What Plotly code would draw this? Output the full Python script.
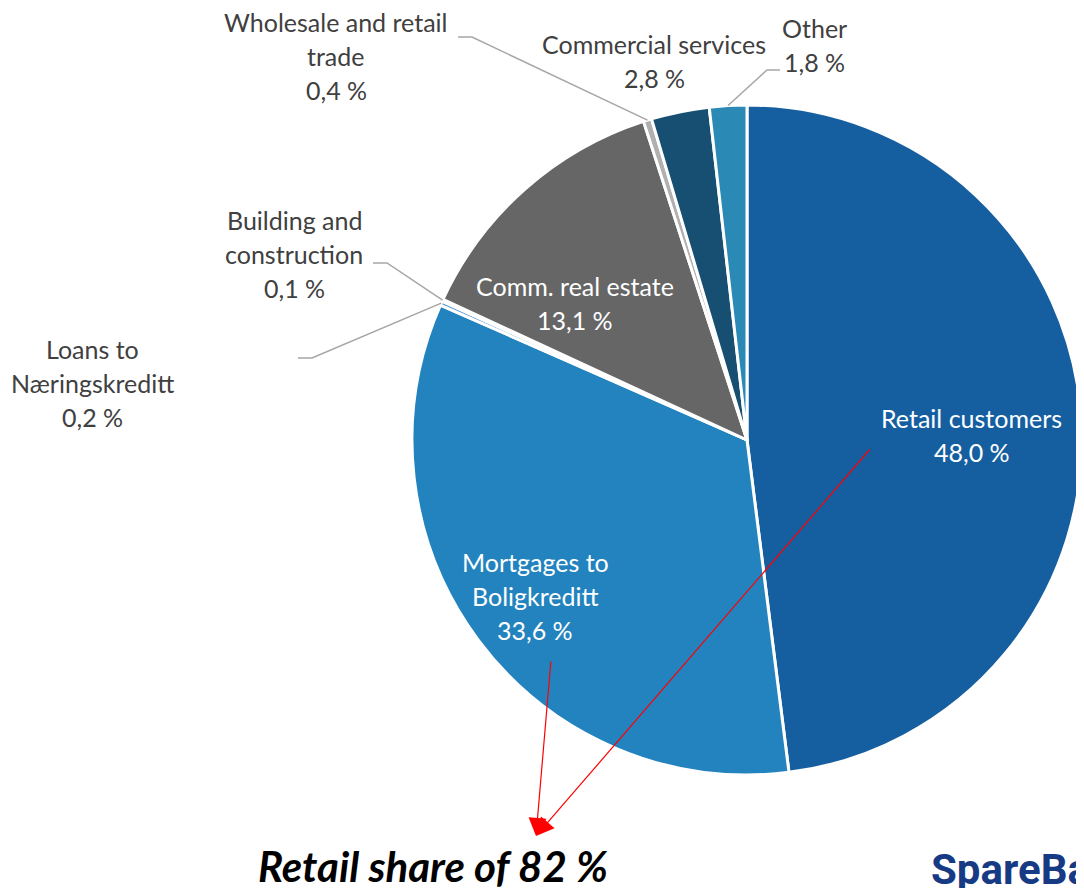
import math
import plotly.graph_objects as go

# loan portfolio by sector (%)
sectors = ['Retail customers', 'Mortgages to Boligkreditt', 'Loans to Næringskreditt',
           'Building and construction', 'Comm. real estate', 'Wholesale and retail trade',
           'Commercial services', 'Other']
shares = [48.0, 33.6, 0.2, 0.1, 13.1, 0.4, 2.8, 1.8]
label_names = [['Retail customers'], ['Mortgages to', 'Boligkreditt'], ['Loans to', 'Næringskreditt'],
               ['Building and', 'construction'], ['Comm. real estate'], ['Wholesale and retail', 'trade'],
               ['Commercial services'], ['Other']]
colors = ['#155FA0', '#2383BE', '#5b9bd5', '#8c8c8c', '#666666', '#b0b0b0', '#174F72', '#2A8AB5']

W, H = 1084, 888
OFF = 8  # page body margin
cx, cy, R = 747, 440, 335  # pie centre / radius in page px


def px_x(v):
    return (v - OFF) / W


def px_y(v):
    return 1 - (v - OFF) / H


def fmt(v):
    return f'{v:.1f}'.replace('.', ',') + ' %'


fig = go.Figure(go.Pie(
    labels=sectors, values=shares, sort=False, direction='clockwise', rotation=0,
    marker=dict(colors=colors, line=dict(color='white', width=3)),
    textinfo='none', textposition='none', hoverinfo='label+percent',
    domain=dict(x=[px_x(cx - R), px_x(cx + R)], y=[px_y(cy + R), px_y(cy - R)]),
))

# label placement: (centre x, first line y, colour, leader line [end x, end y, elbow x])
label_pos = {
    'Retail customers': (972, 418, 'white', None),
    'Mortgages to Boligkreditt': (535, 562, 'white', None),
    'Loans to Næringskreditt': (92, 349, '#404040', (298, 358, 312)),
    'Building and construction': (294, 220, '#404040', (373, 263, 387)),
    'Comm. real estate': (575, 286, 'white', None),
    'Wholesale and retail trade': (336, 22, '#404040', (458, 37, 472)),
    'Commercial services': (654, 44, '#404040', None),
    'Other': (814, 28, '#404040', (780, 70, 767)),
}

annotations = []
shapes = []
cum = 0
for name, v, lines in zip(sectors, shares, label_names):
    x0, y0, col, leader = label_pos[name]
    for i, t in enumerate(lines + [fmt(v)]):
        annotations.append(dict(x=px_x(x0), y=px_y(y0 + i * 34), xref='paper', yref='paper',
                                text=t, showarrow=False, xanchor='center', yanchor='middle',
                                font=dict(family='Lato', size=25, color=col)))
    mid = (cum + v / 2) / 100 * 2 * math.pi
    cum += v
    if leader:
        ex, ey, elx = leader
        axp = cx + R * math.sin(mid)
        ayp = cy - R * math.cos(mid)
        shapes.append(dict(type='path', xref='paper', yref='paper',
                           path=f'M {px_x(ex)} {px_y(ey)} L {px_x(elx)} {px_y(ey)} L {px_x(axp)} {px_y(ayp)}',
                           line=dict(color='#a6a6a6', width=1.5)))

# red arrows towards the retail share text
tip = (536, 836)
for tail in [(871, 448), (551, 660)]:
    annotations.append(dict(x=px_x(tip[0]), y=px_y(tip[1]), xref='paper', yref='paper',
                            ax=tail[0] - tip[0], ay=tail[1] - tip[1], text='', showarrow=True,
                            arrowhead=2, arrowsize=3, arrowwidth=1.2, arrowcolor='#ff0000'))

annotations.append(dict(x=px_x(433), y=px_y(866), xref='paper', yref='paper',
                        text='Retail share of 82 %', showarrow=False, xanchor='center', yanchor='middle',
                        font=dict(family='Lato', size=42, color='black', weight='bold', style='italic')))
annotations.append(dict(x=px_x(929), y=px_y(843), xref='paper', yref='paper',
                        text='SpareBank', showarrow=False, xanchor='left', yanchor='top',
                        font=dict(family='Roboto', size=42, color='#173A84', weight='bold')))

fig.update_layout(width=W, height=H, margin=dict(l=0, r=0, t=0, b=0),
                  paper_bgcolor='white', plot_bgcolor='white', showlegend=False,
                  annotations=annotations, shapes=shapes)
fig.write_html('out.html')
